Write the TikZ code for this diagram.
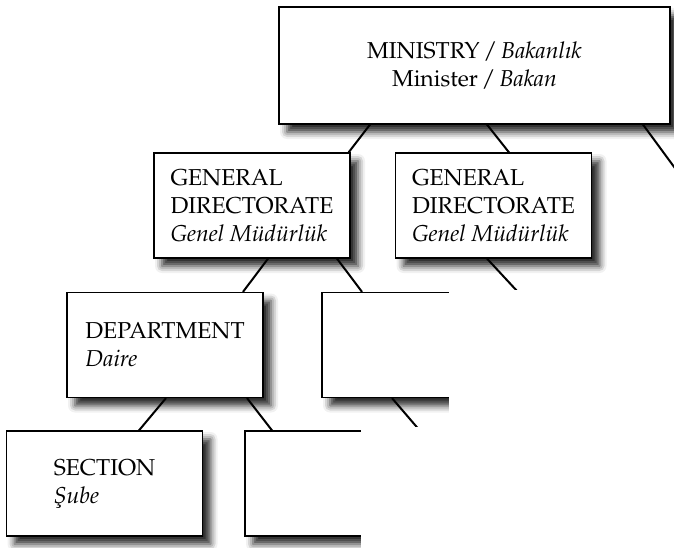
\documentclass[tikz,border=0pt]{standalone}
\usepackage[T1]{fontenc}
\usepackage{mathpazo}
\usetikzlibrary{shadows.blur}

\begin{document}
\begin{tikzpicture}[x=1pt,y=-1pt,
    unit/.style={draw,line width=1.2pt,fill=white,inner sep=0pt,
      minimum width=196pt,minimum height=105pt,align=left,
      font={\fontsize{23}{28}\selectfont},
      blur shadow={shadow xshift=8pt,shadow yshift=-8pt,
        shadow blur radius=7pt,shadow opacity=85}},
    link/.style={line width=2pt}]
    \useasboundingbox (0,0) rectangle (674,548);
    \clip (0,0) rectangle (674,548);

    % Boxes
    \node[unit,minimum width=391pt,minimum height=117pt,align=center] (min) at (474.5,65.5)
      {MINISTRY\,/\,\textit{Bakanl\i k}\\Minister\,/\,\textit{Bakan}};
    \node[unit] (gdA) at (252,205.5) {GENERAL\\DIRECTORATE\\\textit{Genel M\"ud\"url\"uk}};
    \node[unit] (gdB) at (493.5,205.5) {GENERAL\\DIRECTORATE\\\textit{Genel M\"ud\"url\"uk}};
    \node[unit] (depA) at (165,345) {DEPARTMENT\\\textit{Daire}};
    \node[unit] (depB) at (420,345) {};
    \node[unit] (secA) at (104.5,483.5) {SECTION\\\textit{\c{S}ube}};
    \node[unit] (secB) at (343,483.5) {};
    \coordinate (gdC) at (691,190);
    \coordinate (depC) at (445,460);
    \coordinate (secC) at (530,305);

    % Links
    \draw[link] ([xshift=-104.5pt]min.south) -- ([xshift=-2pt]gdA.north east);
    \draw[link] ([xshift=12.5pt]min.south) -- ([xshift=15.5pt]gdB.north);
    \draw[link] ([xshift=168.5pt]min.south) -- (gdC);
    \draw[link] ([xshift=16pt]gdA.south) -- ([xshift=78pt]depA.north);
    \draw[link] ([xshift=85pt]gdA.south) -- ([xshift=-58pt]depB.north);
    \draw[link] ([xshift=-6.5pt]gdB.south) -- (secC);
    \draw[link] ([xshift=1pt]depA.south) -- ([xshift=34.5pt]secA.north);
    \draw[link] ([xshift=82pt]depA.south) -- ([xshift=-71pt]secB.north);
    \draw[link] ([xshift=-28pt]depB.south) -- (depC);

    % Hidden part of the chart
    \fill[white] (449,290) rectangle (674,548);
    \fill[white] (361,427) rectangle (674,548);
\end{tikzpicture}
\end{document}
